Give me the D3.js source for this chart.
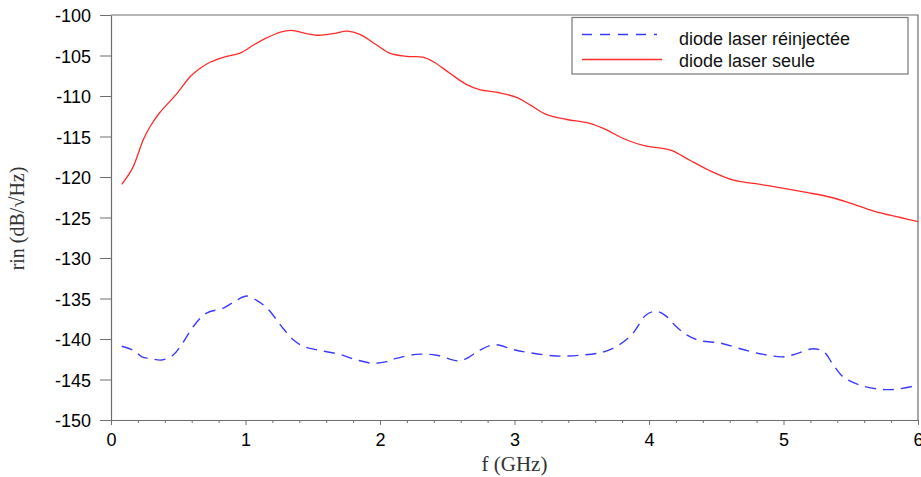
<!DOCTYPE html>
<html>
<head>
<meta charset="utf-8">
<script src="https://cdn.jsdelivr.net/npm/d3@7"></script>
<style>
  html, body { margin: 0; padding: 0; background: #fff; }
  svg { display: block; }
</style>
</head>
<body>
<svg id="chart" width="921" height="477"></svg>
<script>
// ---- data ----
const seriesNames = ["diode laser réinjectée", "diode laser seule"];

const seuleF = [0.08, 0.16, 0.24, 0.29, 0.36, 0.49, 0.59, 0.66, 0.74, 0.86, 0.96, 1.06, 1.16, 1.26, 1.34, 1.455, 1.55, 1.65, 1.76, 1.85, 1.975, 2.07, 2.2, 2.32, 2.40, 2.52, 2.645, 2.74, 2.89, 3.02, 3.115, 3.24, 3.39, 3.54, 3.66, 3.83, 3.98, 4.11, 4.18, 4.30, 4.45, 4.63, 4.78, 4.97, 5.17, 5.35, 5.49, 5.67, 5.87, 6.0];
const seuleV = [-120.9, -118.9, -115.4, -113.8, -112.1, -109.7, -107.6, -106.6, -105.8, -105.1, -104.7, -103.7, -102.8, -102.1, -101.9, -102.3, -102.5, -102.3, -102.0, -102.4, -103.7, -104.7, -105.1, -105.2, -105.8, -107.2, -108.6, -109.2, -109.6, -110.2, -111.1, -112.3, -112.9, -113.3, -114.0, -115.4, -116.2, -116.5, -116.8, -117.9, -119.2, -120.4, -120.8, -121.3, -121.9, -122.5, -123.2, -124.2, -125.0, -125.5];

const reinjF = [0.08, 0.166, 0.23, 0.29, 0.377, 0.46, 0.525, 0.61, 0.71, 0.835, 0.935, 1.01, 1.08, 1.16, 1.28, 1.355, 1.43, 1.55, 1.70, 1.83, 1.95, 2.05, 2.12, 2.27, 2.42, 2.58, 2.645, 2.74, 2.855, 2.99, 3.115, 3.31, 3.49, 3.66, 3.78, 3.88, 3.98, 4.06, 4.13, 4.18, 4.28, 4.38, 4.53, 4.70, 4.85, 5.00, 5.10, 5.22, 5.30, 5.37, 5.445, 5.57, 5.72, 5.84, 6.0];
const reinjV = [-140.9, -141.4, -142.2, -142.4, -142.6, -142.0, -140.7, -138.5, -136.8, -136.2, -135.2, -134.7, -135.2, -136.2, -138.7, -140.1, -140.9, -141.4, -141.9, -142.6, -143.0, -142.8, -142.4, -141.9, -142.0, -142.7, -142.4, -141.4, -140.7, -141.3, -141.7, -142.1, -142.0, -141.6, -140.7, -139.3, -137.0, -136.6, -137.2, -138.1, -139.5, -140.2, -140.5, -141.3, -141.9, -142.2, -141.8, -141.2, -141.6, -143.2, -144.7, -145.7, -146.2, -146.2, -145.7];

const xDomain = [0, 6];
const yDomain = [-150, -100];
const xTicks = [0, 1, 2, 3, 4, 5, 6];
const yTicks = [-150, -145, -140, -135, -130, -125, -120, -115, -110, -105, -100];
const xLabel = "f (GHz)";
const yLabel = "rin (dB/\u221AHz)";

// ---- layout ----
const W = 921, H = 477;
const m = { left: 111, right: 3, top: 15, bottom: 57 };
const svg = d3.select("#chart");

const x = d3.scaleLinear().domain(xDomain).range([m.left, W - m.right]);
const y = d3.scaleLinear().domain(yDomain).range([H - m.bottom, m.top]);

const axisColor = "#6e6e6e";
const sansFont = "'Liberation Sans', Arial, Helvetica, sans-serif";
const serifFont = "'Liberation Serif', 'Times New Roman', Times, serif";

// frame (top & right)
svg.append("path")
  .attr("d", `M${x(0)},${y(-100)}H${x(6)}V${y(-150)}`)
  .attr("fill", "none").attr("stroke", axisColor).attr("stroke-width", 1.2);

// x axis: minor ticks
const minor = d3.range(0, 6.0001, 0.2).filter(v => Math.abs(v - Math.round(v)) > 1e-6);
svg.append("g")
  .attr("transform", `translate(0,${y(-150)})`)
  .call(d3.axisBottom(x).tickValues(minor).tickSize(3).tickFormat(""))
  .call(g => g.select(".domain").remove())
  .call(g => g.selectAll("line").attr("stroke", axisColor));

const gx = svg.append("g")
  .attr("transform", `translate(0,${y(-150)})`)
  .call(d3.axisBottom(x).tickValues(xTicks).tickSize(5).tickSizeOuter(0).tickPadding(8).tickFormat(d3.format("d")));
gx.select(".domain").attr("stroke", axisColor).attr("stroke-width", 1.2);
gx.selectAll("line").attr("stroke", axisColor);
gx.selectAll("text").attr("font-family", sansFont).attr("font-size", 18).attr("fill", "#000");

const gy = svg.append("g")
  .attr("transform", `translate(${x(0)},0)`)
  .call(d3.axisLeft(y).tickValues(yTicks).tickSize(11).tickSizeOuter(0).tickPadding(9).tickFormat(d => String(d)));
gy.select(".domain").attr("stroke", axisColor).attr("stroke-width", 1.2);
gy.selectAll("line").attr("stroke", axisColor);
gy.selectAll("text").attr("font-family", sansFont).attr("font-size", 18).attr("fill", "#000")
  .attr("dy", "0.38em");

// axis titles
svg.append("text")
  .attr("x", (x(0) + x(6)) / 2).attr("y", 471)
  .attr("text-anchor", "middle")
  .attr("font-family", serifFont).attr("font-size", 21).attr("fill", "#333")
  .text(xLabel);

svg.append("text")
  .attr("transform", `translate(24,${(y(-100) + y(-150)) / 2 + 1}) rotate(-90)`)
  .attr("text-anchor", "middle")
  .attr("font-family", serifFont).attr("font-size", 20).attr("fill", "#333")
  .text(yLabel);

// lines
const line = d3.line().x(d => x(d[0])).y(d => y(d[1])).curve(d3.curveCatmullRom.alpha(0.5));

svg.append("path")
  .datum(seuleF.map((f, i) => [f, seuleV[i]]))
  .attr("d", line)
  .attr("fill", "none").attr("stroke", "#ff2a2a").attr("stroke-width", 1.3);

svg.append("path")
  .datum(reinjF.map((f, i) => [f, reinjV[i]]))
  .attr("d", line)
  .attr("fill", "none").attr("stroke", "#3a3aff").attr("stroke-width", 1.4)
  .attr("stroke-dasharray", "11,7");

// legend
const lg = svg.append("g");
lg.append("rect")
  .attr("x", 572).attr("y", 17.5).attr("width", 336).attr("height", 56.5)
  .attr("fill", "#fff").attr("stroke", "#777").attr("stroke-width", 1.2);
const legendItems = [
  { name: seriesNames[0], color: "#3a3aff", dash: "10,8", ly: 34.5, ty: 45, x2: 657 },
  { name: seriesNames[1], color: "#ff2a2a", dash: null, ly: 59.5, ty: 66.5, x2: 662 }
];
legendItems.forEach(it => {
  lg.append("line")
    .attr("x1", 582).attr("x2", it.x2).attr("y1", it.ly).attr("y2", it.ly)
    .attr("stroke", it.color).attr("stroke-width", 1.3)
    .attr("stroke-dasharray", it.dash);
  lg.append("text")
    .attr("x", 679).attr("y", it.ty)
    .attr("font-family", sansFont).attr("font-size", 18).attr("fill", "#111")
    .text(it.name);
});
</script>
</body>
</html>
